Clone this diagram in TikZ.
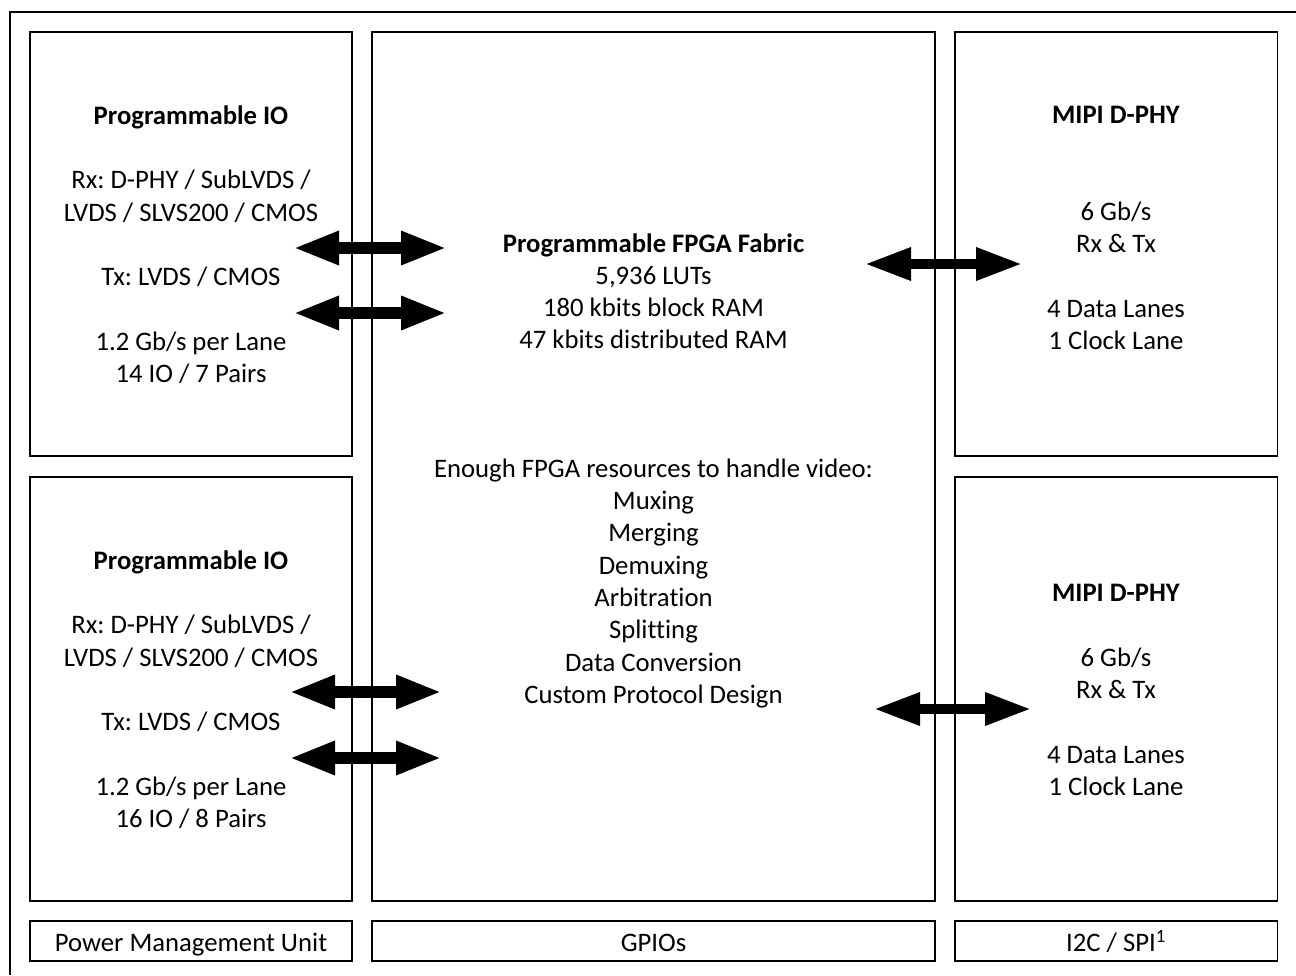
\documentclass[tikz,border=0pt]{standalone}
\usepackage{fontspec}
\setmainfont{Carlito}[Ligatures=NoCommon]
\usetikzlibrary{arrows.meta}
\frenchspacing
\begin{document}
\begin{tikzpicture}[x=1pt,y=-1pt,
  blk/.style={draw=black,line width=1.3pt},
  txt/.style={align=center,inner sep=0pt,font=\fontsize{26.7}{32.3}\selectfont,
    execute at begin node=\strut,execute at end node=\strut},
  dbl/.style={line width=#1,{Triangle[length=46pt,width=31pt]}-{Triangle[length=46pt,width=31pt]}},
]
\useasboundingbox (0,0) rectangle (1296,975);
\draw[line width=1.3pt] (10,975) -- (10,12) -- (1296,12);
% arrows
\coordinate (a1l) at (293,248); \coordinate (a1r) at (447,248);
\coordinate (a2l) at (293,313); \coordinate (a2r) at (447,313);
\coordinate (a3l) at (289,692); \coordinate (a3r) at (442,692);
\coordinate (a4l) at (289,758); \coordinate (a4r) at (442,758);
\coordinate (a5l) at (865,264); \coordinate (a5r) at (1022,264);
\coordinate (a6l) at (874,709); \coordinate (a6r) at (1031,709);
\draw[dbl=12pt] (a1l) -- (a1r);
\draw[dbl=12pt] (a2l) -- (a2r);
\draw[dbl=12pt] (a3l) -- (a3r);
\draw[dbl=12pt] (a4l) -- (a4r);
\draw[dbl=9.5pt] (a5l) -- (a5r);
\draw[dbl=9.5pt] (a6l) -- (a6r);
% boxes
\draw[blk] (30,32) rectangle (352,456);
\draw[blk] (30,477) rectangle (352,901);
\draw[blk] (372,32) rectangle (935,901);
\draw[blk] (955,32) rectangle (1277.7,456);
\draw[blk] (955,477) rectangle (1277.7,901);
\draw[blk] (30,921) rectangle (352,961);
\draw[blk] (372,921) rectangle (935,961);
\draw[blk] (955,921) rectangle (1277.7,961);
% texts
\node[txt] (tl) at (191,249) {\textbf{Programmable IO}\\[32.3pt]Rx: D-PHY / SubLVDS /\\LVDS / SLVS200 / CMOS\\[32.3pt]Tx: LVDS / CMOS\\[32.3pt]1.2 Gb/s per Lane\\14 IO / 7 Pairs};
\node[txt] (bl) at (191,694) {\textbf{Programmable IO}\\[32.3pt]Rx: D-PHY / SubLVDS /\\LVDS / SLVS200 / CMOS\\[32.3pt]Tx: LVDS / CMOS\\[32.3pt]1.2 Gb/s per Lane\\16 IO / 8 Pairs};
\node[txt] (c1) at (653.5,296) {\textbf{Programmable FPGA Fabric}\\5,936 LUTs\\180 kbits block RAM\\47 kbits distributed RAM};
\node[txt] (c2) at (653.5,586) {Enough FPGA resources to handle video:\\Muxing\\Merging\\Demuxing\\Arbitration\\Splitting\\Data Conversion\\Custom Protocol Design};
\node[txt] (tr) at (1116,233) {\textbf{MIPI D-PHY}\\[64.6pt]6 Gb/s\\Rx \& Tx\\[32.3pt]4 Data Lanes\\1 Clock Lane};
\node[txt] (br) at (1116,695) {\textbf{MIPI D-PHY}\\[32.3pt]6 Gb/s\\Rx \& Tx\\[32.3pt]4 Data Lanes\\1 Clock Lane};
\node[txt] (pmu) at (191,945) {Power Management Unit};
\node[txt] (gp) at (653.5,945) {GPIOs};
\node[txt] (i2c) at (1116,945) {I2C / SPI\textsuperscript{1}};
\end{tikzpicture}
\end{document}
